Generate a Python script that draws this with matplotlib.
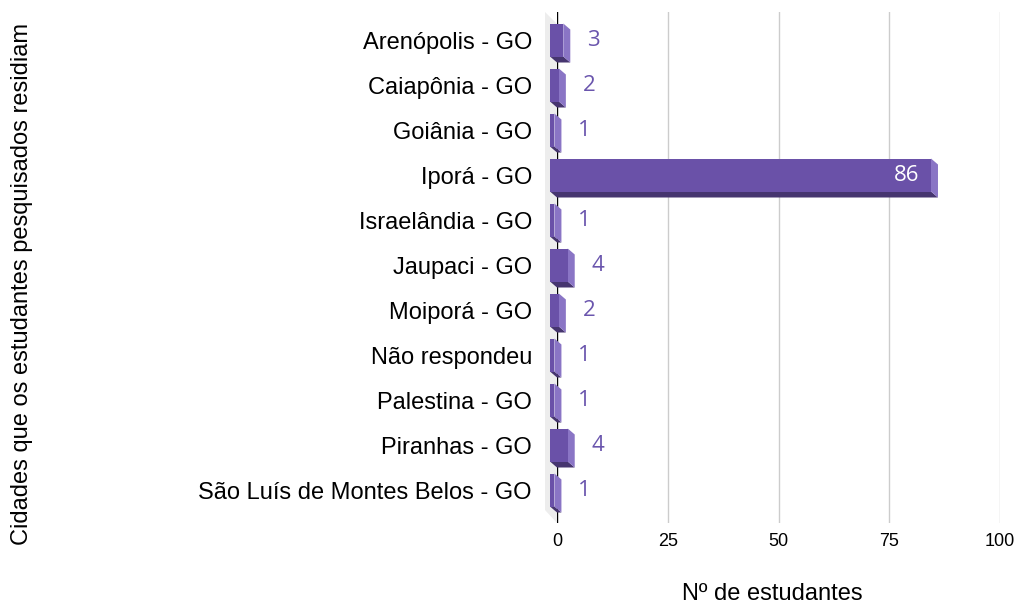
import matplotlib
matplotlib.use("Agg")
import matplotlib.pyplot as plt
from matplotlib.patches import Polygon

cidades = ["Arenópolis - GO", "Caiapônia - GO", "Goiânia - GO", "Iporá - GO",
           "Israelândia - GO", "Jaupaci - GO", "Moiporá - GO", "Não respondeu",
           "Palestina - GO", "Piranhas - GO", "São Luís de Montes Belos - GO"]
estudantes = [3, 2, 1, 86, 1, 4, 2, 1, 1, 4, 1]
xticks = [0, 25, 50, 75, 100]

COR_FRENTE = "#6a51a8"
COR_LADO = "#8a75c5"
COR_BASE = "#46356f"
COR_TEXTO = "#6a55ad"

W, H, DPI = 1016, 605, 100
plt.rcParams['font.family'] = ['Liberation Sans', 'DejaVu Sans']

fig = plt.figure(figsize=(W / DPI, H / DPI), dpi=DPI)
# axes box in pixels: x 557..1000, y 12..523
ax = fig.add_axes([557 / W, 1 - 523 / H, 443 / W, 511 / H])
ax.set_xlim(0, 100)
ax.set_ylim(10.6, -0.7556)

px_x = 443 / 100.0       # pixels per student
px_y = 511 / (10.6 + 0.7556)  # pixels per category
ddx = 7 / px_x           # 3d depth, front face shifted left...
ddy = 6 / px_y           # ...and up
h = 33 / px_y

# side wall left of the axis
wall = Polygon([(-12 / px_x, -0.7556), (0, -0.7556 + 12 / px_y),
                (0, 10.6), (-12 / px_x, 10.6 - 13 / px_y)],
               closed=True, facecolor="#ededed", edgecolor="none",
               clip_on=False, zorder=0)
ax.add_patch(wall)

for x in xticks[1:]:
    ax.axvline(x, color="#cccccc", lw=1, zorder=1)
ax.axvline(0, color="black", lw=1, zorder=1)

for i, v in enumerate(estudantes):
    yf = i - ddy
    base = Polygon([(-ddx, yf + h / 2), (v - ddx, yf + h / 2),
                    (v, i + h / 2), (0, i + h / 2)],
                   closed=True, facecolor=COR_BASE, edgecolor="none",
                   clip_on=False, zorder=2)
    lado = Polygon([(v - ddx, yf - h / 2), (v, i - h / 2),
                    (v, i + h / 2), (v - ddx, yf + h / 2)],
                   closed=True, facecolor=COR_LADO, edgecolor="none",
                   clip_on=False, zorder=2)
    ax.add_patch(base)
    ax.add_patch(lado)

bars = ax.barh([i - ddy for i in range(len(estudantes))], estudantes, height=h,
               left=-ddx, color=COR_FRENTE, zorder=3)
for b in bars:
    b.set_clip_on(False)

for i, v in enumerate(estudantes):
    if v > 20:
        ax.annotate(str(v), (v - ddx, i - ddy), xytext=(-12 * 0.72, 0),
                    textcoords="offset points", ha="right", va="center",
                    color="white", fontsize=16, family=['Open Sans', 'DejaVu Sans'],
                    zorder=4)
    else:
        ax.annotate(str(v), (v, i - ddy), xytext=(17 * 0.72, 0),
                    textcoords="offset points", ha="left", va="center",
                    color=COR_TEXTO, fontsize=16, family=['Open Sans', 'DejaVu Sans'],
                    zorder=4)

ax.set_yticks([i - ddy for i in range(len(cidades))])
ax.set_yticklabels(cidades, fontsize=17)
ax.set_xticks(xticks)
ax.set_xticklabels([str(t) for t in xticks], fontsize=13)
ax.tick_params(axis="y", length=0, pad=25 * 0.72)
ax.tick_params(axis="x", length=0, pad=10 * 0.72)
for s in ax.spines.values():
    s.set_visible(False)

fig.text(772 / W, 1 - 594 / H, "Nº de estudantes", fontsize=17,
         ha="center", va="center")
fig.text(22 / W, 1 - 284 / H, "Cidades que os estudantes pesquisados residiam",
         fontsize=17, rotation=90, ha="center", va="center")

fig.savefig("out.png", dpi=DPI)
